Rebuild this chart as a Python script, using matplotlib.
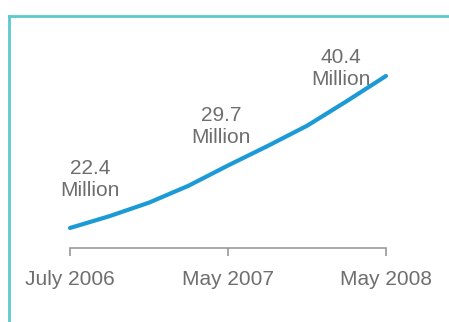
import matplotlib.pyplot as plt
from matplotlib.lines import Line2D

periods = ['July 2006', 'May 2007', 'May 2008']
users = [22.4, 29.7, 40.4]
labels = ['22.4\nMillion', '29.7\nMillion', '40.4\nMillion']
offsets = [(20, 48), (-7, 40), (-45, 7)]

# growth curve (x in period-index units)
trend_x = [0, 0.25, 0.5, 0.75, 1, 1.25, 1.5, 1.75, 2]
trend_v = [22.4, 23.8, 25.4, 27.4, 29.8, 32.1, 34.5, 37.4, 40.4]

plt.rcParams['font.family'] = ['Liberation Sans', 'DejaVu Sans']

W, H = 449, 322
fig = plt.figure(figsize=(W / 100, H / 100), dpi=100)

# teal frame on top and left
teal = '#5ccaca'
fig.add_artist(Line2D([9 / W, 1], [1 - 16 / H, 1 - 16 / H], color=teal, lw=2))
fig.add_artist(Line2D([9 / W, 9 / W], [0, 1 - 16 / H], color=teal, lw=2))

ax = fig.add_axes([70 / W, (H - 248) / H, 316 / W, 188 / H])
x = list(range(len(periods)))
ax.plot(trend_x, trend_v, color='#1b9ad6', lw=3, solid_capstyle='round',
        solid_joinstyle='round', clip_on=False)

for xi, v, lab, off in zip(x, users, labels, offsets):
    ax.annotate(lab, (xi, v), xytext=off, textcoords='offset pixels',
                ha='center', va='center', fontsize=15, color='#6e6e6e')

ax.set_xlim(0, 2)
ax.set_ylim(20.03, 42.29)
ax.set_xticks(x)
ax.set_xticklabels(periods, fontsize=15, color='#6e6e6e')
ax.set_yticks([])
for s in ['top', 'left', 'right']:
    ax.spines[s].set_visible(False)
ax.spines['bottom'].set_color('#999999')
ax.spines['bottom'].set_linewidth(1.2)
ax.tick_params(axis='x', direction='out', length=6, width=1.2, color='#999999', pad=10)
ax.patch.set_alpha(0)

fig.savefig('out.png', dpi=100)
